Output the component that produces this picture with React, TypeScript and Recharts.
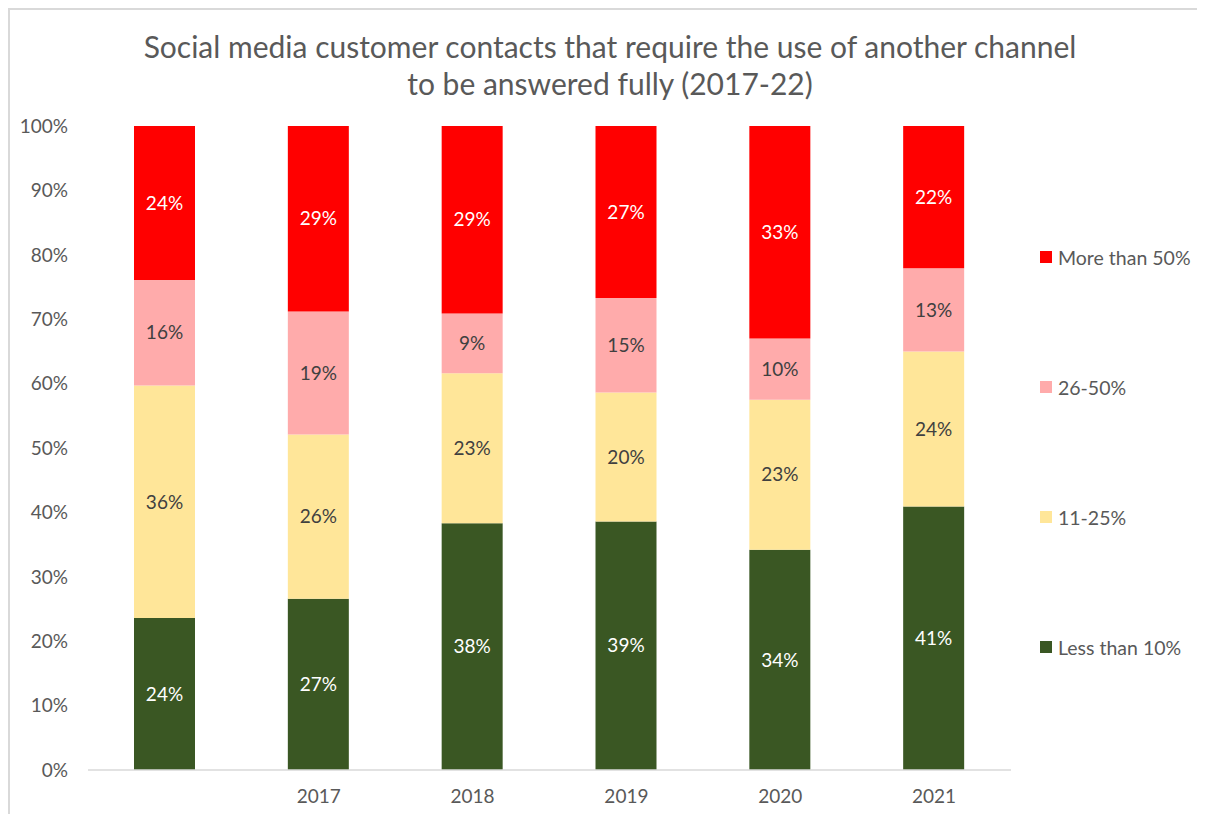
import React from "react";
import { BarChart, Bar, XAxis, YAxis, LabelList } from "recharts";

const categories = ["", "2017", "2018", "2019", "2020", "2021"];
const lessThan10 = [23.6, 26.6, 38.3, 38.6, 34.2, 40.9];
const from11to25 = [36.1, 25.5, 23.3, 20.0, 23.3, 24.1];
const from26to50 = [16.4, 19.1, 9.3, 14.7, 9.5, 12.9];
const moreThan50 = [23.9, 28.8, 29.1, 26.7, 33.0, 22.1];
const yTicks = [0, 10, 20, 30, 40, 50, 60, 70, 80, 90, 100];

const seriesDefs = [
  { key: "less", name: "Less than 10%", color: "#3A5723", labelColor: "#FFFFFF" },
  { key: "s11", name: "11-25%", color: "#FFE699", labelColor: "#404040" },
  { key: "s26", name: "26-50%", color: "#FFABAB", labelColor: "#404040" },
  { key: "more", name: "More than 50%", color: "#FF0000", labelColor: "#FFFFFF" },
];

const data = categories.map((c, i) => ({
  cat: c,
  less: lessThan10[i],
  s11: from11to25[i],
  s26: from26to50[i],
  more: moreThan50[i],
}));

const FONT = "Lato, 'Open Sans', sans-serif";

const LegendBox = () => {
  const items = [...seriesDefs].reverse();
  return (
    <div style={{ position: "absolute", left: 1030, top: 235, fontFamily: FONT }}>
      {items.map((s, i) => (
        <div
          key={s.key}
          style={{
            display: "flex",
            alignItems: "center",
            height: 24,
            marginBottom: i < items.length - 1 ? 106 : 0,
          }}
        >
          <div style={{ width: 12, height: 12, background: s.color, marginRight: 6 }} />
          <span style={{ fontSize: 19.5, color: "#595959", whiteSpace: "nowrap" }}>{s.name}</span>
        </div>
      ))}
    </div>
  );
};

export default function App() {
  return (
    <div
      style={{
        position: "relative",
        width: 1197,
        height: 806,
        borderTop: "2px solid #D9D9D9",
        borderLeft: "2px solid #D9D9D9",
        boxSizing: "border-box",
        background: "#fff",
      }}
    >
      <div
        style={{
          position: "absolute",
          top: 18,
          left: 0,
          width: 1200,
          textAlign: "center",
          fontFamily: FONT,
          fontSize: 30,
          lineHeight: "37px",
          color: "#595959",
        }}
      >
        Social media customer contacts that require the use of another channel
        <br />
        to be answered fully (2017-22)
      </div>
      <div style={{ position: "absolute", top: 0, left: 0 }}>
        <BarChart
          width={1195}
          height={804}
          data={data}
          margin={{ top: 116, right: 194, bottom: 15, left: 0 }}
          barSize={61}
        >
          <YAxis
            type="number"
            domain={[0, 100]}
            ticks={yTicks}
            tickFormatter={(v: number) => `${v}%`}
            axisLine={false}
            tickLine={false}
            tickSize={0}
            tickMargin={20}
            width={78}
            interval={0}
            tick={{ fill: "#595959", fontSize: 19, fontFamily: FONT }}
          />
          <XAxis
            dataKey="cat"
            axisLine={{ stroke: "#D9D9D9", strokeWidth: 1.5 }}
            tickLine={false}
            tickSize={0}
            tickMargin={20}
            height={29}
            interval={0}
            tick={{ fill: "#595959", fontSize: 19, fontFamily: FONT }}
          />
          {seriesDefs.map((s) => (
            <Bar
              key={s.key}
              dataKey={s.key}
              name={s.name}
              stackId="a"
              fill={s.color}
              isAnimationActive={false}
            >
              <LabelList
                dataKey={s.key}
                position="center"
                formatter={(v: number) => `${Math.round(v)}%`}
                style={{ fill: s.labelColor, fontSize: 19, fontFamily: FONT }}
              />
            </Bar>
          ))}
        </BarChart>
      </div>
      <LegendBox />
    </div>
  );
}
